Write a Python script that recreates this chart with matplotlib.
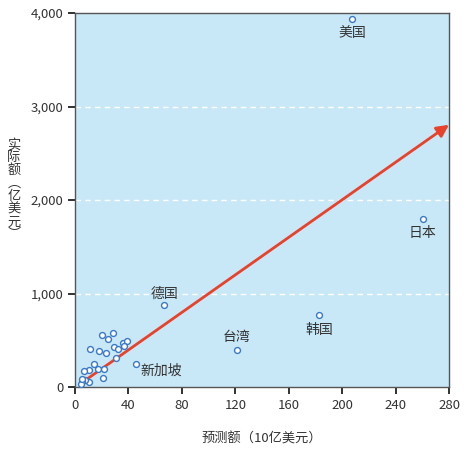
import numpy as np
import matplotlib.pyplot as plt

plt.rcParams['font.family'] = ['Noto Sans CJK SC', 'DejaVu Sans']

# 标注的国家/地区（预测额：10亿美元，实际额：亿美元）
names = ['美国', '日本', '韩国', '台湾', '德国', '新加坡']
named_pred = [207.3, 260.4, 182.9, 121.0, 67.0, 46.0]
named_real = [3939, 1800, 770, 396, 880, 246]

# 其他未标注的点
other_pred = [20.4, 28.1, 24.9, 11.0, 17.7, 22.9, 28.9, 32.1, 35.8, 38.6, 36.6,
              30.4, 14.2, 10.7, 6.5, 17.2, 21.4, 20.7, 10.5, 7.2, 5.5, 4.5, 5.0]
other_real = [556, 574, 510, 403, 385, 364, 425, 403, 467, 489, 435,
              307, 243, 182, 174, 189, 193, 93, 57, 75, 64, 32, 90]

# 趋势箭头
arrow_start = (8.7, 82)
arrow_end = (280, 2805)

xticks = [0, 40, 80, 120, 160, 200, 240, 280]
yticks = [0, 1000, 2000, 3000, 4000]
ytick_labels = ['0', '1,000', '2,000', '3,000', '4,000']
ylabel_chars = ['实', '际', '额', '︵', '亿', '美', '元', '︶']

txt = '#333333'
fig = plt.figure(figsize=(4.66, 4.49), dpi=100)
ax = fig.add_axes([75 / 466, 1 - 387 / 449, 374 / 466, 374 / 449])
ax.set_facecolor('#c8e8f7')
ax.set_xlim(0, 280)
ax.set_ylim(0, 4000)

for y in [1000, 2000, 3000]:
    ax.axhline(y, color='white', lw=1, ls=(0, (4, 3)), zorder=1)

ax.annotate('', xy=arrow_end, xytext=arrow_start,
            arrowprops=dict(arrowstyle='-|>', color='#e8412c', lw=2,
                            mutation_scale=18, shrinkA=0, shrinkB=0),
            annotation_clip=False, zorder=3)

ax.scatter(other_pred + named_pred, other_real + named_real, s=18,
           facecolor='white', edgecolor='#3a78c8', linewidth=1, zorder=4,
           clip_on=False)

offsets = [(0, -10, 'center', 'center'), (0, -10.5, 'center', 'center'),
           (0, -11, 'center', 'center'), (0, 9, 'center', 'center'),
           (0, 8, 'center', 'center'), (3, -4.5, 'left', 'center')]
for n, x, y, (dx, dy, ha, va) in zip(names, named_pred, named_real, offsets):
    ax.annotate(n, (x, y), xytext=(dx, dy), textcoords='offset points',
                ha=ha, va=va, fontsize=10, color=txt, zorder=5)

ax.set_xticks(xticks)
ax.set_yticks(yticks)
ax.set_yticklabels(ytick_labels)
ax.tick_params(direction='out', length=5, width=1.3, colors='#222222',
               labelcolor=txt, labelsize=9.5)
for s in ax.spines.values():
    s.set_color('#555555')
    s.set_linewidth(1)

ax.set_xlabel('预测额（10亿美元）', fontsize=9.5, color=txt, labelpad=15)

# 竖排的纵轴标题
for i, ch in enumerate(ylabel_chars):
    fig.text(14 / 466, 1 - (145 + i * 12.8) / 449, ch, ha='center',
             va='center', fontsize=9.5, color=txt)

fig.savefig('out.png', dpi=100)
